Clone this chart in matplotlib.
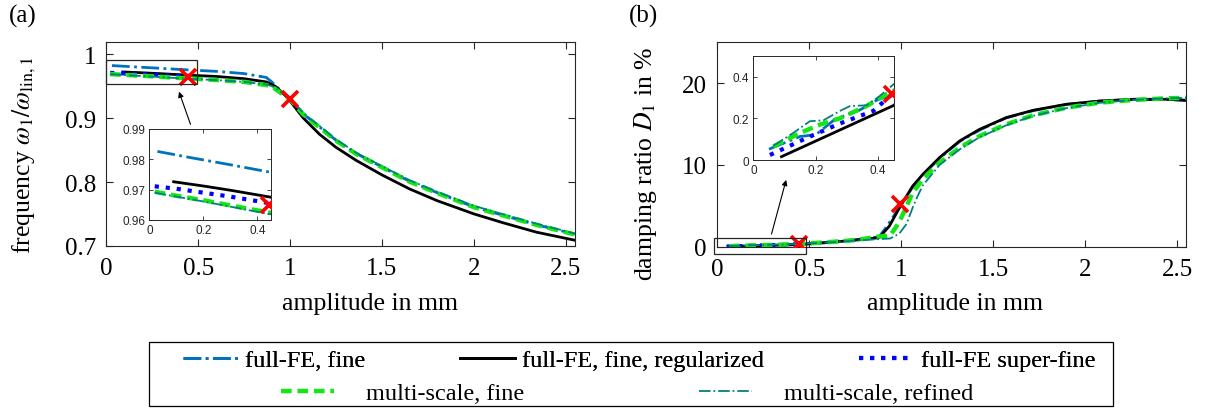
import matplotlib.pyplot as plt
from matplotlib.patches import Rectangle

plt.rcParams['font.family'] = 'Liberation Serif'
plt.rcParams['mathtext.fontset'] = 'stix'

# ---- frequency ratio omega_1 / omega_lin,1 over amplitude (mm) ----
amp_fine_f = [0.03, 0.15, 0.3, 0.45, 0.6, 0.75, 0.87, 0.9, 0.95, 1.0, 1.07, 1.16,
              1.25, 1.36, 1.5, 1.65, 1.8, 2.0, 2.16, 2.34, 2.55]
freq_fine = [0.9826, 0.9806, 0.9782, 0.9757, 0.9735, 0.9700, 0.9640, 0.9570, 0.9430,
             0.9315, 0.9070, 0.8865, 0.8655, 0.8448, 0.8238, 0.8013, 0.7835, 0.7612,
             0.7480, 0.7333, 0.7185]

amp_reg_f = [0.09, 0.2, 0.3, 0.45, 0.6, 0.75, 0.87, 0.92, 0.98, 1.0, 1.07, 1.16, 1.25,
             1.36, 1.5, 1.65, 1.8, 2.0, 2.16, 2.34, 2.55]
freq_reg = [0.9726, 0.9712, 0.9698, 0.9675, 0.9655, 0.9620, 0.9570, 0.9500, 0.9340,
            0.9270, 0.9010, 0.8750, 0.8545, 0.8340, 0.8113, 0.7894, 0.7710, 0.7503,
            0.7363, 0.7217, 0.7090]

amp_sf_f = [0.02, 0.1, 0.2, 0.3, 0.44]
freq_sf = [0.9711, 0.9703, 0.9690, 0.9677, 0.9656]

amp_ms_f = [0.02, 0.1, 0.2, 0.3, 0.44, 0.6, 0.75, 0.87, 0.9, 0.945, 1.0, 1.07, 1.16,
            1.25, 1.36, 1.5, 1.65, 1.8, 2.0, 2.16, 2.34, 2.55]
freq_ms = [0.9693, 0.9680, 0.9665, 0.9648, 0.9625, 0.9600, 0.9570, 0.9520, 0.9500,
           0.9406, 0.9300, 0.9066, 0.8858, 0.8649, 0.8441, 0.8233, 0.8008, 0.7831,
           0.7608, 0.7477, 0.7331, 0.7180]
freq_msr = [0.9690, 0.9677, 0.9661, 0.9644, 0.9620, 0.9598, 0.9570, 0.9530, 0.9505,
            0.9420, 0.9325, 0.9085, 0.8880, 0.8670, 0.8460, 0.8250, 0.8030, 0.7850,
            0.7630, 0.7497, 0.7350, 0.7195]

# ---- damping ratio D_1 in % over amplitude (mm) ----
amp_fine_d = [0.05, 0.15, 0.2, 0.26, 0.34, 0.4, 0.44, 0.6, 0.75, 0.88, 0.92, 0.97, 1.0,
              1.06, 1.12, 1.21, 1.32, 1.43, 1.57, 1.72, 1.9, 2.08, 2.26, 2.44, 2.55]
damp_fine = [0.052, 0.113, 0.121, 0.194, 0.239, 0.291, 0.307, 0.55, 0.85, 1.2, 2.4,
             4.1, 5.1, 7.2, 8.8, 10.85, 12.9, 14.3, 15.75, 16.65, 17.4, 17.8, 18.0,
             18.0, 17.9]

amp_reg_d = [0.09, 0.45, 0.6, 0.75, 0.88, 0.936, 0.991, 1.063, 1.118, 1.209, 1.318,
             1.427, 1.572, 1.717, 1.899, 2.08, 2.262, 2.444, 2.55]
damp_reg = [0.016, 0.262, 0.5, 0.8, 1.1, 2.52, 4.77, 7.42, 8.85, 10.9, 12.93, 14.36,
            15.79, 16.68, 17.42, 17.82, 18.03, 18.03, 17.9]

amp_sf_d = [0.053, 0.17, 0.277, 0.384, 0.44]
damp_sf = [0.024, 0.105, 0.175, 0.235, 0.31]

amp_ms_d = [0.064, 0.15, 0.214, 0.277, 0.363, 0.427, 0.45, 0.6, 0.75, 0.882, 0.94,
            0.99, 1.063, 1.118, 1.209, 1.318, 1.427, 1.572, 1.717, 1.899, 2.08, 2.262,
            2.444, 2.55]
damp_ms = [0.065, 0.13, 0.17, 0.2, 0.259, 0.316, 0.33, 0.55, 0.8, 1.25, 1.35, 3.0,
           6.6, 8.24, 10.28, 12.1, 13.54, 14.97, 16.07, 17.0, 17.62, 17.95, 18.15, 18.2]

amp_msr_d = [0.064, 0.128, 0.181, 0.224, 0.277, 0.31, 0.363, 0.405, 0.45, 0.6, 0.75,
             0.9, 0.94, 0.99, 1.03, 1.063, 1.09, 1.118, 1.209, 1.318, 1.427, 1.572,
             1.717, 1.899, 2.08, 2.262, 2.444, 2.55]
damp_msr = [0.068, 0.13, 0.186, 0.19, 0.235, 0.259, 0.262, 0.307, 0.364, 0.5, 0.75,
            0.95, 1.0, 1.6, 2.8, 4.8, 6.2, 7.5, 10.0, 11.9, 13.4, 14.85, 16.0, 16.95,
            17.6, 17.95, 18.15, 18.2]

# marked evaluation points
cross_amp_f = [0.443, 1.0]
cross_freq = [0.9648, 0.930]
cross_amp_d = [0.443, 0.996]
cross_damp = [0.316, 5.18]

labels = ['full-FE, fine', 'full-FE, fine, regularized', 'full-FE super-fine',
          'multi-scale, fine', 'multi-scale, refined']

AX_COL = '#262626'


def draw_curves(ax, series, cross):
    h = []
    h += ax.plot(*series[0], color='#0072BD', ls='-.', lw=2.0)
    h += ax.plot(*series[1], color='k', ls='-', lw=2.0)
    h += ax.plot(*series[2], color='#0000FF', ls=':', lw=3.0)
    h += ax.plot(*series[3], color='#14E614', ls=(0, (2.4, 1.3)), lw=3.2)
    h += ax.plot(*series[4], color='#00807F', ls='-.', lw=1.3)
    ax.plot(*cross, ls='none', marker='x', ms=11, mew=2.6, color='#FF0000', zorder=6)
    return h


def style_main(ax):
    for s in ax.spines.values():
        s.set_color(AX_COL)
        s.set_linewidth(0.8)
    ax.tick_params(direction='in', top=True, right=True, length=5, width=0.8,
                   color=AX_COL, labelsize=18)
    ax.tick_params(axis='x', pad=8)
    ax.tick_params(axis='y', pad=7.5)


def style_inset(ax):
    for s in ax.spines.values():
        s.set_color(AX_COL)
        s.set_linewidth(0.7)
    ax.tick_params(direction='in', top=True, right=True, length=3, width=0.6,
                   color=AX_COL, labelsize=8.5, labelcolor=AX_COL, pad=3)
    for t in ax.get_xticklabels() + ax.get_yticklabels():
        t.set_family('Liberation Sans')


freq_series = [(amp_fine_f, freq_fine), (amp_reg_f, freq_reg), (amp_sf_f, freq_sf),
               (amp_ms_f, freq_ms), (amp_ms_f, freq_msr)]
damp_series = [(amp_fine_d, damp_fine), (amp_reg_d, damp_reg), (amp_sf_d, damp_sf),
               (amp_ms_d, damp_ms), (amp_msr_d, damp_msr)]

fig = plt.figure(figsize=(12.12, 4.10), dpi=100)

# (a) frequency
ax1 = fig.add_axes([0.0878, 0.3976, 0.3865, 0.4983])
handles = draw_curves(ax1, freq_series, (cross_amp_f, cross_freq))
ax1.set_xlim(0, 2.55)
ax1.set_ylim(0.7, 1.02)
ax1.set_xticks([0, 0.5, 1, 1.5, 2, 2.5], ['0', '0.5', '1', '1.5', '2', '2.5'])
ax1.set_yticks([0.7, 0.8, 0.9, 1.0], ['0.7', '0.8', '0.9', '1'])
style_main(ax1)
ax1.set_xlabel('amplitude in mm', fontsize=18.5)
ax1.xaxis.set_label_coords(0.563, -0.225)
ax1.set_ylabel(r'frequency $\omega_1/\omega_{\mathrm{lin},1}$', fontsize=18.5)
ax1.yaxis.set_label_coords(-0.145, 0.45)
ax1.add_patch(Rectangle((0, 0.9536), 0.494, 0.038, fill=False, ec=AX_COL, lw=0.9,
                        zorder=7, clip_on=False))
ax1.annotate('', xy=(0.39, 0.9458), xytext=(0.4627, 0.8864),
             arrowprops=dict(arrowstyle='-|>', color='k', lw=0.8, mutation_scale=8))

ins1 = fig.add_axes([0.1232, 0.461, 0.1004, 0.222])
draw_curves(ins1, freq_series, (cross_amp_f, cross_freq))
ins1.set_xlim(0, 0.45)
ins1.set_ylim(0.96, 0.99)
ins1.set_xticks([0, 0.2, 0.4], ['0', '0.2', '0.4'])
ins1.set_yticks([0.96, 0.97, 0.98, 0.99], ['0.96', '0.97', '0.98', '0.99'])
style_inset(ins1)

# (b) damping
ax2 = fig.add_axes([0.5917, 0.3959, 0.3871, 0.4985])
draw_curves(ax2, damp_series, (cross_amp_d, cross_damp))
ax2.set_xlim(0, 2.55)
ax2.set_ylim(0, 25)
ax2.set_xticks([0, 0.5, 1, 1.5, 2, 2.5], ['0', '0.5', '1', '1.5', '2', '2.5'])
ax2.set_yticks([0, 10, 20])
style_main(ax2)
ax2.set_xlabel('amplitude in mm', fontsize=18.5)
ax2.xaxis.set_label_coords(0.507, -0.222)
ax2.set_ylabel(r'damping ratio $D_1$ in %', fontsize=18.5)
ax2.yaxis.set_label_coords(-0.124, 0.41)
ax2.add_patch(Rectangle((-0.015, -0.86), 0.498, 1.96, fill=False, ec=AX_COL, lw=0.9,
                        zorder=7, clip_on=False))
ax2.annotate('', xy=(0.379, 8.5), xytext=(0.2916, 1.22),
             arrowprops=dict(arrowstyle='-|>', color='k', lw=0.8, mutation_scale=8))

ins2 = fig.add_axes([0.6216, 0.6073, 0.1159, 0.2544])
draw_curves(ins2, damp_series, (cross_amp_d, cross_damp))
ins2.set_xlim(0, 0.45)
ins2.set_ylim(0, 0.5)
ins2.set_xticks([0, 0.2, 0.4], ['0', '0.2', '0.4'])
ins2.set_yticks([0, 0.2, 0.4], ['0', '0.2', '0.4'])
style_inset(ins2)

fig.text(0.019, 0.959, '(a)', fontsize=18, ha='center', va='center')
fig.text(0.531, 0.959, '(b)', fontsize=18, ha='center', va='center')

# legend: two rows inside one frame
leg1 = fig.legend(handles[:3], labels[:3], loc='center left',
                  bbox_to_anchor=(0.151, 0.1195), ncol=3, frameon=False,
                  fontsize=17.5, borderpad=0, borderaxespad=0, handlelength=2.25,
                  handletextpad=0.3, columnspacing=3.9)
leg2 = fig.legend(handles[3:], labels[3:], loc='center left',
                  bbox_to_anchor=(0.2315, 0.039), ncol=2, frameon=False,
                  fontsize=17.5, borderpad=0, borderaxespad=0, handlelength=2.2,
                  handletextpad=1.3, columnspacing=7.2)
fig.add_artist(leg1)
fig.patches.append(Rectangle((0.1226, 0.0066), 0.7957, 0.1576, fill=False, ec='k',
                             lw=0.9, transform=fig.transFigure, figure=fig))

fig.savefig('out.png', dpi=100)
